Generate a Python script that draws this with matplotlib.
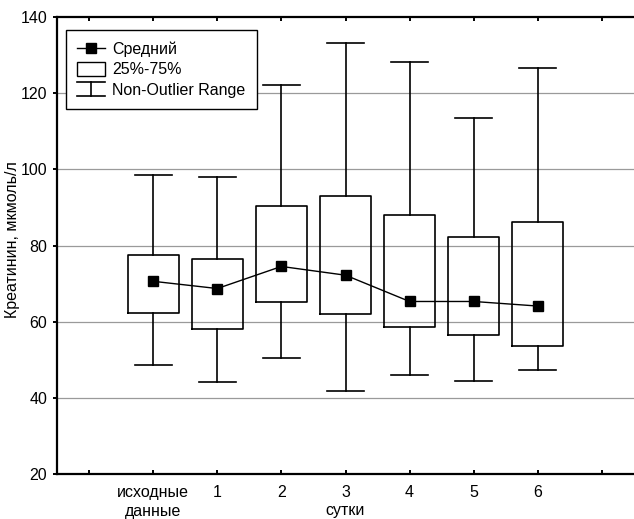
import matplotlib
matplotlib.use("Agg")
import matplotlib.pyplot as plt
from matplotlib.legend_handler import HandlerBase
from matplotlib.lines import Line2D
from matplotlib.patches import Rectangle

plt.rcParams['font.family'] = ['Liberation Sans', 'DejaVu Sans']
plt.rcParams['font.size'] = 11.5

# data
groups = ['исходные\nданные', '1', '2', '3', '4', '5', '6']
means = [70.6, 68.7, 74.5, 72.2, 65.3, 65.3, 64.1]
q1 = [62.4, 58.1, 65.1, 62.1, 58.5, 56.6, 53.6]
q3 = [77.6, 76.4, 90.4, 93.0, 88.0, 82.3, 86.2]
whis_lo = [48.7, 44.2, 50.5, 41.9, 46.0, 44.4, 47.2]
whis_hi = [98.4, 98.1, 122.1, 133.2, 128.3, 113.6, 126.5]


class WhiskerHandler(HandlerBase):
    def create_artists(self, legend, orig_handle, xdescent, ydescent,
                       width, height, fontsize, trans):
        cx = width / 2 - xdescent
        lo, hi = -ydescent, height - ydescent
        arts = [Line2D([cx, cx], [lo, hi], color='black', lw=1.2),
                Line2D([-xdescent, width - xdescent], [lo, lo], color='black', lw=1.2),
                Line2D([-xdescent, width - xdescent], [hi, hi], color='black', lw=1.2)]
        for a in arts:
            a.set_transform(trans)
        return arts


fig = plt.figure(figsize=(6.34, 5.19), dpi=100)
ax = fig.add_axes([57 / 634, 1 - 474 / 519, 1 - 57 / 634, (474 - 17) / 519])

x = list(range(len(groups)))
stats = []
for i in x:
    stats.append(dict(med=means[i], q1=q1[i], q3=q3[i],
                      whislo=whis_lo[i], whishi=whis_hi[i], fliers=[]))

ax.bxp(stats, positions=x, widths=0.8, showfliers=False, patch_artist=False,
       boxprops=dict(color='black', lw=1.2),
       whiskerprops=dict(color='black', lw=1.2),
       capprops=dict(color='black', lw=1.2),
       medianprops=dict(visible=False),
       capwidths=0.58, manage_ticks=False)

ax.plot(x, means, color='black', lw=1, marker='s', markersize=7.5,
        zorder=4)

ax.set_xlim(-1.5, 7.5)
ax.set_ylim(20, 140)
ax.set_xticks(range(-1, 8))
ax.set_xticklabels([''] + groups + [''], linespacing=1.3)
ax.set_yticks(range(20, 141, 20))

for yv in range(40, 121, 20):
    ax.axhline(yv, color='#9a9a9a', lw=0.9, zorder=0)

for s in ax.spines.values():
    s.set_linewidth(1.6)
ax.spines['right'].set_visible(False)
ax.tick_params(axis='x', direction='in', length=3, width=1.4, top=True,
               pad=8)
ax.tick_params(axis='y', direction='out', length=3, width=1.4, pad=4)
ax.tick_params(axis='y', which='major', right=True)

ax.set_ylabel('Креатинин, мкмоль/л')
ax.yaxis.set_label_coords(-0.064, 0.514)
ax.set_xlabel('сутки')
ax.xaxis.set_label_coords(0.5, -0.064)

mean_h = Line2D([], [], color='black', lw=1, marker='s', markersize=7.5)
box_h = Rectangle((0, 0), 1, 1, facecolor='white', edgecolor='black', lw=1)
whis_h = Line2D([], [])
leg = ax.legend([mean_h, box_h, whis_h],
                ['Средний', '25%-75%', 'Non-Outlier Range'],
                handler_map={whis_h: WhiskerHandler()},
                loc='upper left', bbox_to_anchor=(0.015, 0.972),
                fancybox=False, framealpha=1, edgecolor='black',
                borderpad=0.72, labelspacing=0.3, handlelength=1.75,
                handleheight=1.0, handletextpad=0.45, borderaxespad=0)
leg.get_frame().set_linewidth(1)

fig.savefig('out.png', dpi=100)
